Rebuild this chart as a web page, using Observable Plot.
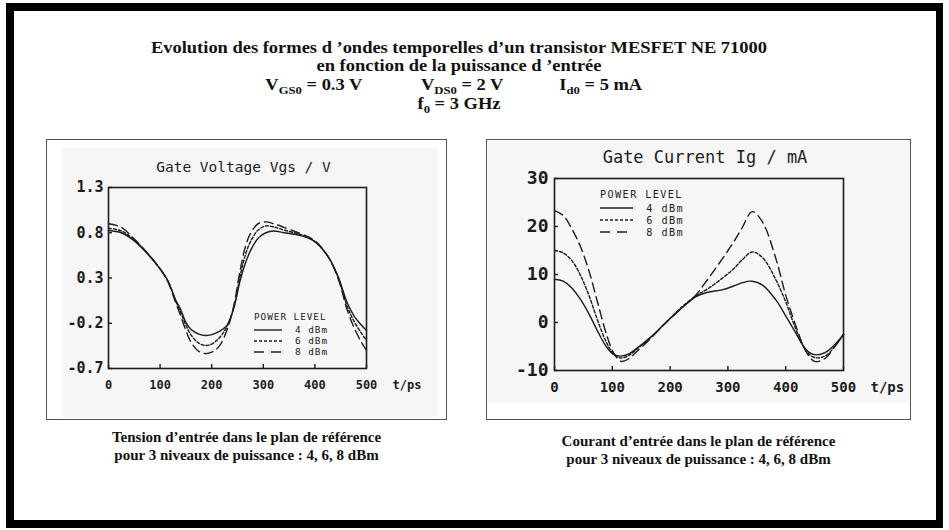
<!DOCTYPE html>
<html><head><meta charset="utf-8">
<script src="https://cdn.jsdelivr.net/npm/d3@7"></script>
<script src="https://cdn.jsdelivr.net/npm/@observablehq/plot@0.6"></script>
<style>
html,body{margin:0;padding:0;background:#fff;}
#page{position:relative;width:949px;height:530px;overflow:hidden;background:#fff;}
#border{position:absolute;left:6px;top:3px;width:937px;height:525px;box-sizing:border-box;border:8px solid #000;border-right-width:7px;}
.serif{font-family:"Liberation Serif","Times New Roman",serif;font-weight:bold;color:#111;}
#hdr{position:absolute;left:0;top:0;width:918px;height:130px;transform:scaleX(1.153);transform-origin:459px 0;}
.hline{position:absolute;left:0;width:918px;text-align:center;font-size:16px;line-height:19px;white-space:nowrap;}
.abs{position:absolute;font-size:16px;line-height:19px;white-space:nowrap;}
.sub{font-size:11px;position:relative;top:3.5px;}
.panel{position:absolute;box-sizing:border-box;border:1.5px solid #555;}
.scan{position:absolute;background:#f6f6f6;}
.plot{position:absolute;}
.cap{position:absolute;text-align:center;font-size:15px;line-height:18px;white-space:nowrap;}
</style>
</head><body>
<div id="page">
  <div id="border"></div>
  <div id="hdr" class="serif">
    <div class="hline" style="top:37.5px">Evolution des formes d ’ondes temporelles d’un transistor MESFET NE 71000</div>
    <div class="hline" style="top:56px">en fonction de la puissance d ’entrée</div>
    <div class="abs" style="top:75px;left:291px">V<span class="sub">GS0</span> = 0.3 V</div>
    <div class="abs" style="top:75px;left:426px">V<span class="sub">DS0</span> = 2 V</div>
    <div class="abs" style="top:75px;left:546px">I<span class="sub">d0</span> = 5 mA</div>
    <div class="hline" style="top:94px">f<span class="sub">0</span> = 3 GHz</div>
  </div>

  <div class="scan" style="left:62px;top:148px;width:376px;height:269px"></div>
  <div class="scan" style="left:488px;top:141px;width:422px;height:262px"></div>
  <div class="panel" style="left:46px;top:139px;width:401px;height:281px"></div>
  <div class="panel" style="left:486px;top:139px;width:425px;height:281px"></div>
  <div id="left" class="plot" style="left:47px;top:141px"></div>
  <div id="right" class="plot" style="left:488px;top:141px"></div>
  <svg id="legend" width="949" height="530" style="position:absolute;left:0;top:0;pointer-events:none"></svg>

  <div class="serif cap" style="left:46px;width:401px;top:428px">Tension d’entrée dans le plan de référence<br>pour 3 niveaux de puissance : 4, 6, 8 dBm</div>
  <div class="serif cap" style="left:486px;width:425px;top:432px">Courant d’entrée dans le plan de référence<br>pour 3 niveaux de puissance : 4, 6, 8 dBm</div>
</div>
<script>
// ---------- data ----------
const seriesLabels = ["4 dBm", "6 dBm", "8 dBm"];
const xTicks = [0, 100, 200, 300, 400, 500];

// Gate voltage Vgs (V) vs t (ps)
const vgsT = [0,25,50,75,100,115,130,140,150,160,175,188,200,215,230,243,255,265,275,290,305,320,340,372,398,424,444,463,476,490,500];
const vgs4 = [0.825,0.80,0.71,0.57,0.40,0.27,0.06,-0.05,-0.19,-0.27,-0.32,-0.335,-0.325,-0.29,-0.22,-0.03,0.27,0.46,0.60,0.74,0.80,0.82,0.80,0.77,0.71,0.55,0.33,0.02,-0.12,-0.22,-0.28];
const vgs6 = [0.85,0.82,0.72,0.575,0.40,0.27,0.05,-0.08,-0.22,-0.33,-0.42,-0.445,-0.43,-0.36,-0.23,-0.02,0.32,0.55,0.70,0.83,0.875,0.865,0.83,0.78,0.71,0.55,0.32,-0.02,-0.18,-0.31,-0.39];
const vgs8 = [0.90,0.86,0.73,0.58,0.40,0.26,0.03,-0.12,-0.28,-0.41,-0.51,-0.535,-0.52,-0.45,-0.27,0.0,0.38,0.64,0.79,0.90,0.92,0.90,0.86,0.79,0.72,0.55,0.31,-0.06,-0.25,-0.41,-0.50];
const vgsYTicks = [-0.7, -0.2, 0.3, 0.8, 1.3];

// Gate current Ig (mA) vs t (ps)
const igT = [0,15,30,45,60,75,90,103,115,128,140,165,192,220,245,265,290,310,325,342,360,383,400,417,435,450,468,485,500];
const ig4 = [9.0,8.6,7.2,4.8,1.7,-1.9,-5.1,-6.7,-7.0,-6.6,-5.6,-3.2,-0.1,3.0,5.4,6.3,6.8,7.6,8.3,8.6,7.8,4.7,1.4,-2.1,-5.6,-6.7,-6.3,-4.6,-2.5];
const ig6 = [15.0,14.5,12.9,9.8,5.5,0.3,-4.2,-6.7,-7.4,-6.9,-5.8,-3.3,-0.1,3.2,5.6,7.0,9.2,11.2,13.1,14.7,13.5,8.9,4.3,-1.2,-5.8,-7.3,-7.0,-5.0,-2.5];
const ig8 = [23.3,22.3,19.5,15.8,10.6,4.0,-2.5,-6.5,-8.1,-7.6,-6.3,-3.5,-0.1,3.0,5.8,9.0,13.2,16.8,19.8,23.1,20.9,13.3,5.7,-0.5,-6.0,-8.1,-7.5,-5.0,-2.5];
const igYTicks = [-10, 0, 10, 20, 30];

const dashes = [null, "3,2", "9,5"];
const ink = "#1c1c1c";

function rows(T, arr) { return T.map((t, i) => ({t, v: arr[i]})); }

function chart(o) {
  const pw = o.width - o.ml - o.mr, ph = o.height - o.mt - o.mb;
  const marks = [
    Plot.frame({stroke: ink, strokeWidth: 1.6}),
    Plot.tickX(xTicks, {x: d => d, insetTop: ph - 4, stroke: ink, strokeWidth: 1.4}),
    Plot.tickY(o.yTicks, {y: d => d, insetRight: pw - 4, stroke: ink, strokeWidth: 1.4}),
    Plot.axisX(xTicks, {tickSize: 0, tickPadding: o.xPad, fontSize: o.xFont, fontWeight: "bold", fill: ink, label: null, tickFormat: d => String(d)}),
    Plot.axisY(o.yTicks, {tickSize: 0, tickPadding: o.yPad, fontSize: o.yFont, fontWeight: "bold", fill: ink, label: null, tickFormat: o.fmt}),
    Plot.text([o.title], {text: d => d, frameAnchor: "top", dx: 6, dy: o.titleDy, fontSize: o.titleFont, lineAnchor: "middle", fill: ink}),
    Plot.text(["t/ps"], {text: d => d, frameAnchor: "bottom-right", textAnchor: "start", lineAnchor: "top", dx: o.tpsDx, dy: o.xPad, fontSize: o.xFont, fontWeight: "bold", fill: ink})
  ];
  o.series.forEach((arr, k) => {
    marks.push(Plot.line(rows(o.T, arr), {x: "t", y: "v", stroke: ink, strokeWidth: 1.4, strokeDasharray: dashes[k], curve: "catmull-rom"}));
  });
  return Plot.plot({
    width: o.width, height: o.height,
    marginLeft: o.ml, marginRight: o.mr, marginTop: o.mt, marginBottom: o.mb,
    x: {domain: [0, 500]},
    y: {domain: o.yDomain},
    style: {fontFamily: "'DejaVu Sans Mono', monospace", background: "transparent", color: ink, overflow: "visible"},
    marks
  });
}

document.getElementById("left").append(chart({
  width: 400, height: 278, ml: 61, mr: 81, mt: 46, mb: 51,
  T: vgsT, series: [vgs4, vgs6, vgs8], yDomain: [-0.7, 1.3], yTicks: vgsYTicks,
  fmt: d => d.toFixed(1), xPad: 12, yPad: 5, xFont: 12, yFont: 15,
  title: "Gate Voltage Vgs / V", titleFont: 14.5, titleDy: -20, tpsDx: 26
}));
document.getElementById("right").append(chart({
  width: 422, height: 278, ml: 66, mr: 67, mt: 37, mb: 49,
  T: igT, series: [ig4, ig6, ig8], yDomain: [-10, 30], yTicks: igYTicks,
  fmt: d => String(d), xPad: 12, yPad: 6, xFont: 14, yFont: 18,
  title: "Gate Current Ig / mA", titleFont: 17, titleDy: -21, tpsDx: 27
}));

// ---------- legends ----------
const lg = d3.select("#legend");
function legend(x0, yHead, rowYs, lineW, xEnd, fs, ls) {
  lg.append("text").attr("x", x0).attr("y", yHead).attr("dy", "0.35em")
    .attr("font-family", "DejaVu Sans Mono, monospace").attr("font-size", fs).attr("letter-spacing", ls)
    .attr("fill", ink).text("POWER LEVEL");
  seriesLabels.forEach((lab, k) => {
    lg.append("line").attr("x1", x0).attr("x2", x0 + lineW).attr("y1", rowYs[k]).attr("y2", rowYs[k])
      .attr("stroke", ink).attr("stroke-width", 1.4).attr("stroke-dasharray", k === 2 ? "10,7" : dashes[k]);
    lg.append("text").attr("x", xEnd).attr("y", rowYs[k]).attr("dy", "0.35em").attr("text-anchor", "end")
      .attr("font-family", "DejaVu Sans Mono, monospace").attr("font-size", fs).attr("letter-spacing", ls)
      .attr("fill", ink).text(lab);
  });
}
legend(254, 317, [330, 341, 352], 28, 328, 9.4, 0.95);
legend(600, 194, [208, 220, 232], 33, 684, 10.2, 1.4);
</script>
</body></html>
